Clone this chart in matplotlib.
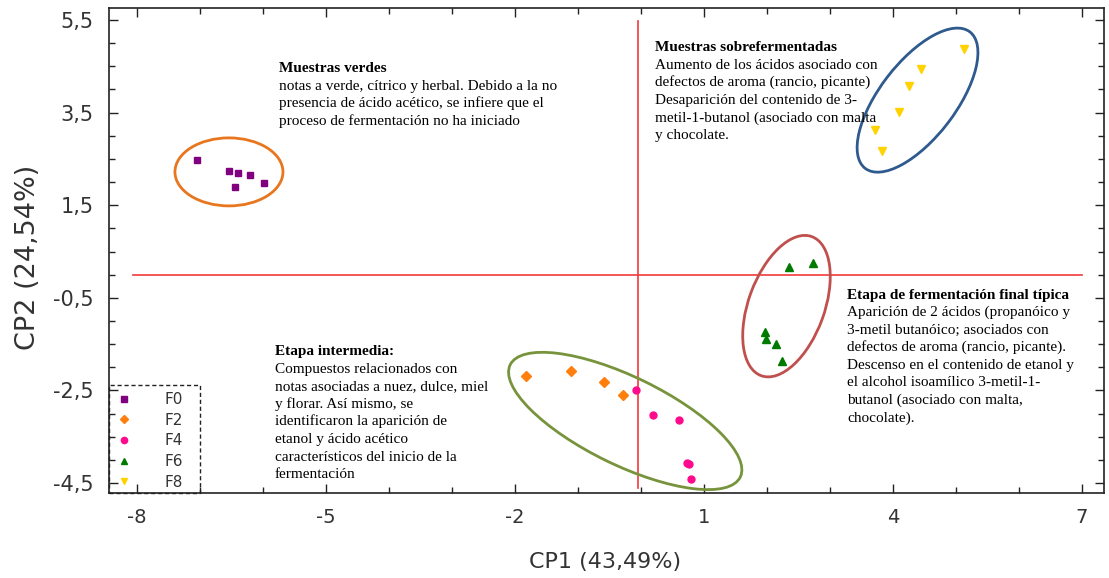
import numpy as np
import matplotlib
matplotlib.use("Agg")
import matplotlib.pyplot as plt
from matplotlib.patches import Ellipse, Rectangle
from matplotlib.lines import Line2D
import matplotlib.transforms as mtransforms
from matplotlib.ticker import FixedLocator, MultipleLocator

# ---------------- data ----------------
groups = ["F0", "F2", "F4", "F6", "F8"]
f0_x = [-7.05, -6.54, -6.40, -6.20, -5.98, -6.44]
f0_y = [2.48, 2.24, 2.20, 2.15, 1.97, 1.90]
f2_x = [-1.83, -1.11, -0.59, -0.29]
f2_y = [-2.19, -2.07, -2.32, -2.60]
f4_x = [-0.08, 0.19, 0.60, 0.73, 0.77, 0.79]
f4_y = [-2.49, -3.03, -3.14, -4.07, -4.09, -4.41]
f6_x = [2.35, 2.73, 1.97, 1.98, 2.14, 2.24]
f6_y = [0.17, 0.26, -1.23, -1.40, -1.50, -1.86]
f8_x = [5.12, 4.45, 4.25, 4.10, 3.72, 3.83]
f8_y = [4.87, 4.44, 4.08, 3.51, 3.13, 2.68]

x_ticks = [-8, -5, -2, 1, 4, 7]
x_ticklabels = ["-8", "-5", "-2", "1", "4", "7"]
y_ticks = [5.5, 3.5, 1.5, -0.5, -2.5, -4.5]
y_ticklabels = ["5,5", "3,5", "1,5", "-0,5", "-2,5", "-4,5"]

x_label = "CP1 (43,49%)"
y_label = "CP2 (24,54%)"

# ---------------- figure ----------------
W, H = 1109, 578
fig = plt.figure(figsize=(W / 100, H / 100), dpi=100)
L, R, T, B = 109, 1104, 8, 493
ax = fig.add_axes([L / W, (H - B) / H, (R - L) / W, (B - T) / H])
ax.set_xlim(-8.444, 7.35)
ax.set_ylim(-4.716, 5.76)

sans = ["DejaVu Sans"]
serif = ["Liberation Serif", "DejaVu Serif"]

# reference lines
ax.plot([-8.06, 7.0], [0, 0], color="#F23A3A", lw=1.2, zorder=1)
ax.plot([-0.04, -0.04], [-4.6, 5.48], color="#F23A3A", lw=1.2, zorder=1)

# points
styles = [
    (f0_x, f0_y, "s", "#800080", 5.0),
    (f2_x, f2_y, "D", "#FF7F0E", 5.0),
    (f4_x, f4_y, "o", "#FF0A8C", 5.0),
    (f6_x, f6_y, "^", "#007A00", 5.5),
    (f8_x, f8_y, "v", "#FFD200", 6.0),
]
handles = []
for (xs, ys, m, c, ms), g in zip(styles, groups):
    ax.plot(xs, ys, linestyle="none", marker=m, color=c, ms=ms, mec=c, zorder=4)
    handles.append(Line2D([], [], linestyle="none", marker=m, color=c, ms=4.5, mec=c, label=g))

# group ellipses (size in pixels, centred on data points)
ellipses = [
    (-6.54, 2.22, 108, 68, 0, "#E8761E"),
    (-0.25, -3.16, 256, 88, -26, "#77933C"),
    (2.31, -0.68, 148, 76, 70, "#C0504D"),
    (4.39, 3.77, 172, 76, 52.5, "#2F5A8E"),
]
for cx, cy, w, h, ang, col in ellipses:
    e = Ellipse((0, 0), w, h, angle=ang, fill=False, edgecolor=col, lw=2.0,
                transform=mtransforms.ScaledTranslation(cx, cy, ax.transData), zorder=3)
    ax.add_patch(e)

# ticks
ax.xaxis.set_major_locator(FixedLocator(x_ticks))
ax.xaxis.set_minor_locator(MultipleLocator(1))
ax.set_xticklabels(x_ticklabels)
ax.yaxis.set_major_locator(FixedLocator(y_ticks))
ax.yaxis.set_minor_locator(MultipleLocator(0.5))
ax.set_yticklabels(y_ticklabels)
ax.tick_params(which="both", direction="in", top=True, right=True, width=1.0, color="#222222")
ax.tick_params(which="major", length=6.5)
ax.tick_params(which="minor", length=4.3)
ax.tick_params(axis="x", which="major", pad=11)
ax.tick_params(axis="y", which="major", pad=11)
for lab in ax.get_xticklabels():
    lab.set_family(sans)
    lab.set_fontsize(14)
    lab.set_color("#333333")
for lab in ax.get_yticklabels():
    lab.set_family(sans)
    lab.set_fontsize(15)
    lab.set_color("#333333")
for s in ax.spines.values():
    s.set_linewidth(1.2)
    s.set_color("#222222")

fig.text(605 / W, 1 - 562 / H, x_label, ha="center", va="center", fontsize=16,
         family=sans, color="#333333")
fig.text(28 / W, 1 - 257 / H, y_label, ha="center", va="center", rotation=90,
         fontsize=19.5, family=sans, color="#333333")

# legend (frameless) + dashed box
leg_fs = 11
leg = ax.legend(handles=handles, loc="upper left",
                bbox_to_anchor=((112 - L) / (R - L), (B - 392) / (B - T)),
                borderaxespad=0, borderpad=0, frameon=False, handlelength=1.6,
                handletextpad=1.86, labelspacing=0.37,
                prop={"family": sans, "size": leg_fs})
for t in leg.get_texts():
    t.set_color("#333333")
ax.add_patch(Rectangle((0, 0), (200 - L) / (R - L), (B - 385) / (B - T),
                       transform=ax.transAxes, fill=False, edgecolor="#222222",
                       linestyle=(0, (3, 2)), lw=1.0, zorder=5, clip_on=False))

# annotations (one text call per line, baseline positions in pixels)
blocks = [
    (279, 72, "Muestras verdes",
     ["notas a verde, cítrico y herbal. Debido a la no",
      "presencia de ácido acético, se infiere que el",
      "proceso de fermentación no ha iniciado"]),
    (655, 51, "Muestras sobrefermentadas",
     ["Aumento de los ácidos asociado con",
      "defectos de aroma (rancio, picante)",
      "Desaparición del contenido de 3-",
      "metil-1-butanol (asociado con malta",
      "y chocolate."]),
    (847, 298.5, "Etapa de fermentación final típica",
     ["Aparición de 2 ácidos (propanóico y",
      "3-metil butanóico; asociados con",
      "defectos de aroma (rancio, picante).",
      "Descenso en el contenido de etanol y",
      "el alcohol isoamílico 3-metil-1-",
      "butanol (asociado con malta,",
      "chocolate)."]),
    (275, 355, "Etapa intermedia:",
     ["Compuestos relacionados con",
      "notas asociadas a nuez, dulce, miel",
      "y florar. Así mismo, se",
      "identificaron la aparición de",
      "etanol y ácido acético",
      "característicos del inicio de la",
      "fermentación"]),
]
LS = 17.6
FS = 11
for x0, y0, head, lines in blocks:
    fig.text(x0 / W, 1 - y0 / H, head, ha="left", va="baseline", fontsize=FS,
             family=serif, fontweight="bold", color="black")
    for i, ln in enumerate(lines):
        fig.text(x0 / W, 1 - (y0 + LS * (i + 1)) / H, ln, ha="left", va="baseline",
                 fontsize=FS, family=serif, color="black")

fig.savefig("out.png", dpi=100)
